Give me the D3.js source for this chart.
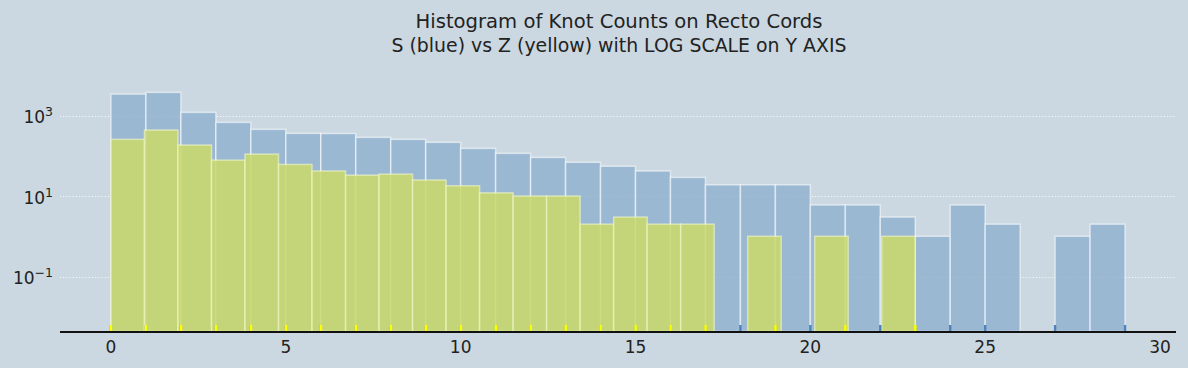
<!DOCTYPE html>
<html>
<head>
<meta charset="utf-8">
<script src="https://cdn.jsdelivr.net/npm/d3@7/dist/d3.min.js"></script>
<style>
  html, body { margin: 0; padding: 0; background: #cbd8e1; }
  svg { display: block; }
</style>
</head>
<body>
<svg id="chart" width="1188" height="368"></svg>
<script>
// ---- data ----
const titleLines = ["Histogram of Knot Counts on Recto Cords", "S (blue) vs Z (yellow) with LOG SCALE on Y AXIS"];
// S: 29 bins of width 1 from 0 to 29
const sRange = [0, 29];
const sCounts = [3420, 3770, 1200, 677, 454, 361, 358, 287, 256, 216, 153, 115, 91, 69, 55, 42, 29, 19, 19, 19, 6, 6, 3, 1, 6, 2, 0, 1, 2];
// Z: 24 bins from 0 to 23
const zRange = [0, 23];
const zCounts = [256, 436, 185, 78, 110, 61, 42, 33, 35, 25, 18, 12, 10, 10, 2, 3, 2, 2, 0, 1, 0, 1, 0, 1];
// rug marks (observed distinct values)
const sRug = [0,1,2,3,4,5,6,7,8,9,10,11,12,13,14,15,16,17,18,19,20,21,22,23,24,25,27,29];
const zRug = [0,1,2,3,4,5,6,7,8,9,10,11,12,13,14,15,16,17,19,21,23];
const xTicks = [0, 5, 10, 15, 20, 25, 30];
const yTicks = [0.1, 10, 1000];
const yTickExp = ["\u22121", "1", "3"];

// ---- layout ----
const svg = d3.select("#chart");
const L = 60, R = 1176, T = 81, B = 331.5;
const x = d3.scaleLinear().domain([-1.457, 30.457]).range([L, R]);
const y = d3.scaleLog().domain([Math.pow(10, -2.366), Math.pow(10, 3.859)]).range([B, T]);

function bins(counts, range) {
  const w = (range[1] - range[0]) / counts.length;
  return counts.map((c, i) => ({ x0: range[0] + i * w, x1: range[0] + (i + 1) * w, c }));
}

// grid
svg.append("g").selectAll("line").data(yTicks).join("line")
  .attr("x1", L).attr("x2", R)
  .attr("y1", d => Math.round(y(d)) + 0.5).attr("y2", d => Math.round(y(d)) + 0.5)
  .attr("stroke", "#ffffff").attr("stroke-width", 1.1)
  .attr("stroke-dasharray", "1,2.2").attr("opacity", 0.95);

// S bars
svg.append("g").selectAll("rect").data(bins(sCounts, sRange).filter(d => d.c > 0)).join("rect")
  .attr("x", d => x(d.x0)).attr("width", d => x(d.x1) - x(d.x0))
  .attr("y", d => y(d.c)).attr("height", d => B - y(d.c))
  .attr("fill", "rgb(142,176,207)").attr("fill-opacity", 0.8)
  .attr("stroke", "#ffffff").attr("stroke-opacity", 0.55).attr("stroke-width", 1.5);

// Z bars
svg.append("g").selectAll("rect").data(bins(zCounts, zRange).filter(d => d.c > 0)).join("rect")
  .attr("x", d => x(d.x0)).attr("width", d => x(d.x1) - x(d.x0))
  .attr("y", d => y(d.c)).attr("height", d => B - y(d.c))
  .attr("fill", "rgb(203,217,104)").attr("fill-opacity", 0.84)
  .attr("stroke", "#f4f8c8").attr("stroke-opacity", 0.6).attr("stroke-width", 1.5);

// rugs
svg.append("g").selectAll("rect").data(sRug).join("rect")
  .attr("x", d => x(d) - 1.2).attr("width", 2.4)
  .attr("y", B - 6.5).attr("height", 6.5)
  .attr("fill", "#4f82b8");
svg.append("g").selectAll("rect").data(zRug).join("rect")
  .attr("x", d => x(d) - 1.2).attr("width", 2.6)
  .attr("y", B - 6.5).attr("height", 6.5)
  .attr("fill", "#ffff00");

// bottom spine
svg.append("line").attr("x1", L).attr("x2", R).attr("y1", 332).attr("y2", 332)
  .attr("stroke", "#111").attr("stroke-width", 2);

// x tick labels
svg.append("g").selectAll("text").data(xTicks).join("text")
  .attr("x", d => x(d)).attr("y", 353)
  .attr("text-anchor", "middle")
  .attr("font-family", "DejaVu Sans").attr("font-size", 17).attr("fill", "#222")
  .text(d => d);

// y tick labels with superscripts
const yl = svg.append("g").selectAll("text").data(yTicks).join("text")
  .attr("x", 53).attr("y", d => y(d) + 7.5)
  .attr("text-anchor", "end")
  .attr("font-family", "DejaVu Sans").attr("font-size", 17).attr("fill", "#222");
yl.append("tspan").text("10");
yl.append("tspan").attr("dy", -7).attr("font-size", 12.5).text((d, i) => yTickExp[i]);

// title
const titleWidths = [407, 455];
svg.append("g").selectAll("text").data(titleLines).join("text")
  .attr("x", 619).attr("y", (d, i) => 28 + i * 23.5)
  .attr("text-anchor", "middle")
  .attr("font-family", "DejaVu Sans").attr("font-size", 19).attr("fill", "#222")
  .attr("textLength", (d, i) => titleWidths[i]).attr("lengthAdjust", "spacingAndGlyphs")
  .text(d => d);
</script>
</body>
</html>
